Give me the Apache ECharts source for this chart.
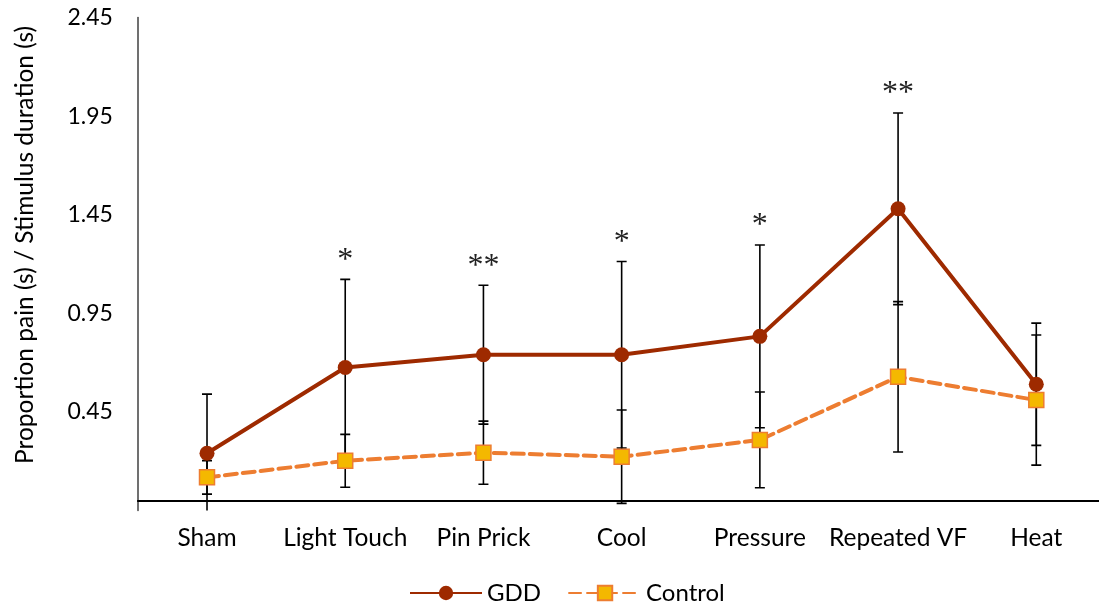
<!DOCTYPE html>
<html>
<head>
<meta charset="utf-8">
<script src="https://cdn.jsdelivr.net/npm/echarts@6/dist/echarts.min.js"></script>
<style>
html,body{margin:0;padding:0;background:#fff;}
#chart{width:1099px;height:609px;}
</style>
</head>
<body>
<div id="chart"></div>
<script>
var categories = ['Sham', 'Light Touch', 'Pin Prick', 'Cool', 'Pressure', 'Repeated VF', 'Heat'];
var gddMean = [0.24, 0.675, 0.74, 0.74, 0.833, 1.48, 0.59];
var gddErr = [0.30, 0.447, 0.352, 0.473, 0.463, 0.486, 0.31];
var controlMean = [0.118, 0.202, 0.243, 0.223, 0.308, 0.628, 0.51];
var controlErr = [0.085, 0.134, 0.16, 0.237, 0.243, 0.381, 0.33];
var significance = ['', '*', '**', '*', '*', '**', ''];
var yTicks = { min: -0.05, max: 2.45, interval: 0.5 };

var FONT = 'Lato, "Open Sans", sans-serif';

function errData(means, errs) {
  return means.map(function (m, i) { return [i, m, errs[i]]; });
}

function renderErr(params, api) {
  var i = api.value(0), m = api.value(1), e = api.value(2);
  var top = api.coord([i, m + e]);
  var bot = api.coord([i, m - e]);
  var x = top[0];
  var cap = 5;
  var style = { stroke: '#000', lineWidth: 1.6 };
  return {
    type: 'group',
    children: [
      { type: 'line', shape: { x1: x, y1: top[1], x2: x, y2: bot[1] }, style: style },
      { type: 'line', shape: { x1: x - cap, y1: top[1], x2: x + cap, y2: top[1] }, style: style },
      { type: 'line', shape: { x1: x - cap, y1: bot[1], x2: x + cap, y2: bot[1] }, style: style }
    ]
  };
}

function renderSig(params, api) {
  var i = api.value(0), m = api.value(1), e = api.value(2);
  var txt = significance[i];
  if (!txt) return null;
  var top = api.coord([i, m + e]);
  return {
    type: 'text',
    x: top[0], y: top[1] - 3,
    style: {
      text: txt, fill: '#222', font: '32px "Liberation Serif", "DejaVu Serif", serif',
      align: 'center', verticalAlign: 'bottom'
    }
  };
}

var chart = echarts.init(document.getElementById('chart'), null, { renderer: 'canvas' });
chart.setOption({
  animation: false,
  backgroundColor: '#fff',
  grid: { left: 137.9, top: 17.5, width: 967.5, height: 493, outerBoundsMode: 'none', containLabel: false },
  legend: {
    data: ['GDD', 'Control'],
    top: 576,
    left: 404,
    itemWidth: 72,
    itemHeight: 18,
    itemGap: 27,
    textStyle: { fontSize: 24, color: '#000', fontFamily: FONT }
  },
  xAxis: {
    type: 'category',
    data: categories,
    boundaryGap: true,
    axisLine: { onZero: true, lineStyle: { color: '#000', width: 2 } },
    axisTick: { show: false },
    axisLabel: { fontSize: 24.5, color: '#000', fontFamily: FONT, margin: 15, interval: 0 },
    splitLine: { show: false }
  },
  yAxis: {
    type: 'value',
    min: yTicks.min, max: yTicks.max, interval: yTicks.interval,
    axisLine: { show: true, lineStyle: { color: '#404040', width: 1.5 } },
    axisTick: { show: false },
    splitLine: { show: false },
    axisLabel: {
      fontSize: 23, color: '#000', fontFamily: FONT, margin: 25,
      formatter: function (v) { return v < 0 ? '' : v.toFixed(2); }
    }
  },
  graphic: [{
    type: 'text',
    x: 25, y: 245,
    rotation: Math.PI / 2,
    style: {
      text: 'Proportion pain (s) / Stimulus duration (s)',
      font: '24.5px ' + FONT, fill: '#000',
      align: 'center', verticalAlign: 'middle'
    }
  }],
  series: [
    {
      name: 'GDD error', type: 'custom', renderItem: renderErr, clip: true, z: 1,
      data: errData(gddMean, gddErr), silent: true
    },
    {
      name: 'Control error', type: 'custom', renderItem: renderErr, clip: true, z: 1,
      data: errData(controlMean, controlErr), silent: true
    },
    {
      name: 'Significance', type: 'custom', renderItem: renderSig, clip: false, z: 5,
      data: errData(gddMean, gddErr), silent: true
    },
    {
      name: 'GDD', type: 'line', data: gddMean, z: 3,
      symbol: 'circle', symbolSize: 15,
      lineStyle: { color: '#9E2A00', width: 4 },
      itemStyle: { color: '#9E2A00', borderWidth: 0 }
    },
    {
      name: 'Control', type: 'line', data: controlMean, z: 2,
      symbol: 'rect', symbolSize: 15,
      lineStyle: { color: '#ED7D31', width: 4, type: [12, 6], cap: 'round' },
      itemStyle: { color: '#F4B800', borderColor: '#ED7D31', borderWidth: 1.5 }
    }
  ]
});
</script>
</body>
</html>
